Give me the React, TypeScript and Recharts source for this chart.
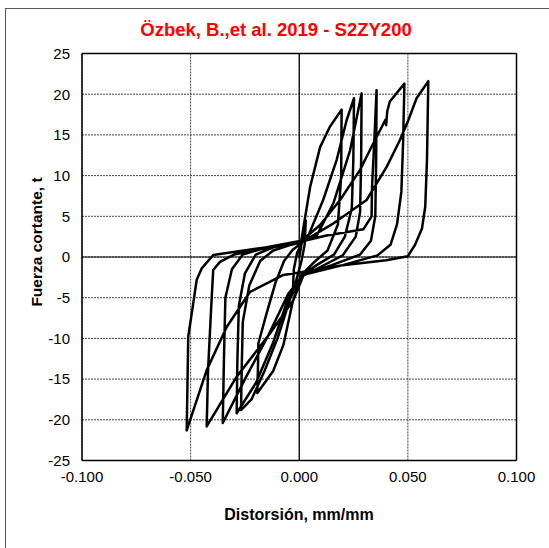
import React from 'react';
import { LineChart, Line, XAxis, YAxis, CartesianGrid, ReferenceLine } from 'recharts';

const titulo = 'Özbek, B.,et al. 2019 - S2ZY200';
const tituloX = 'Distorsión, mm/mm';
const tituloY = 'Fuerza cortante, t';

const xTicks = [-0.1, -0.05, 0, 0.05, 0.1];
const yTicks = [-25, -20, -15, -10, -5, 0, 5, 10, 15, 20, 25];

// [distorsión, fuerza]
const ciclo0: [number, number][] = [
  [0, 0], [0.002, 3], [0.003, 4.5], [0.0025, 1.5], [0.001, -0.5], [-0.001, -2.5],
  [-0.003, -4.5], [-0.0025, -1.5], [-0.001, 0.5],
];
const ciclo1: [number, number][] = [
  [0.0005, 1.3], [0.005, 8.6], [0.0096, 13.5], [0.0141, 16], [0.0195, 18.1],
  [0.0193, 10], [0.0178, 4], [0.013, 0.8], [0.007, -0.6], [0.001, -2.2],
  [-0.003, -5.5], [-0.0073, -10.8], [-0.012, -14], [-0.0193, -16.7],
  [-0.019, -13.5], [-0.0188, -10.6], [-0.015, -6.9], [-0.011, -3.2], [-0.007, -0.5], [-0.003, 0.9], [0.0005, 1.6],
];
const ciclo2: [number, number][] = [
  [0.004, 2.5], [0.011, 7], [0.0172, 11.9], [0.0218, 16.8], [0.0252, 19.5],
  [0.0249, 12], [0.0242, 6], [0.021, 2.5], [0.016, 0.3], [0.008, -1], [0.001, -2.3],
  [-0.004, -5], [-0.01, -10], [-0.016, -14], [-0.022, -17.5], [-0.0268, -18.8],
  [-0.0265, -14], [-0.026, -8], [-0.023, -3.5], [-0.018, -0.5], [-0.012, 0.8], [-0.005, 1.4], [0.001, 1.8],
];
const ciclo3: [number, number][] = [
  [0.008, 2.6], [0.0157, 6.6], [0.0234, 13.1], [0.0287, 20.1],
  [0.0285, 12], [0.028, 5.5], [0.026, 2.5], [0.02, 0.2], [0.01, -1.2], [0.001, -2.4],
  [-0.005, -5], [-0.012, -10.5], [-0.02, -15.5], [-0.0288, -19.2],
  [-0.0285, -13], [-0.0278, -6], [-0.025, -2], [-0.02, 0.3], [-0.012, 1.2], [0.001, 1.9],
];
const ciclo4: [number, number][] = [
  [0.012, 2.6], [0.0295, 3.4], [0.0333, 5], [0.0335, 8.6], [0.0345, 14], [0.0356, 20.5],
  [0.0354, 12], [0.035, 5], [0.033, 2], [0.028, 0.3], [0.015, -1], [0.002, -2.2],
  [-0.005, -4.5], [-0.014, -9.5], [-0.025, -15], [-0.0352, -20.4],
  [-0.0347, -13], [-0.034, -5], [-0.031, -1.5], [-0.026, 0.3], [-0.015, 1.2], [0.001, 2],
];
const ciclo5: [number, number][] = [
  [0.0095, 3.9], [0.0188, 7], [0.028, 10.7], [0.0349, 14.4], [0.0398, 16.9], [0.04, 16.2], [0.0405, 17.9],
  [0.0417, 19.1], [0.0484, 21.3],
  [0.0478, 14], [0.047, 8], [0.045, 4], [0.042, 1.5], [0.036, 0.2], [0.02, -1], [0.002, -2.2],
  [-0.0027, -5.3], [-0.0135, -9.4], [-0.0288, -14.7], [-0.0426, -20.8],
  [-0.042, -14], [-0.0405, -6], [-0.0396, -1.6], [-0.0365, -0.6], [-0.03, 0.3], [-0.015, 1.1], [0.001, 1.8],
];
const ciclo6: [number, number][] = [
  [0.015, 4], [0.031, 7], [0.0403, 11.1], [0.0464, 14.4], [0.0502, 16.8], [0.054, 19.5], [0.0594, 21.6],
  [0.0588, 12], [0.058, 6.2], [0.0565, 3.5], [0.0533, 1.5], [0.05, 0.1], [0.04, -0.4], [0.02, -1], [0.002, -1.8],
  [-0.0073, -2.2], [-0.0227, -4.3], [-0.0334, -8.6], [-0.0426, -13.9], [-0.0518, -21.3],
  [-0.0511, -9.8], [-0.0488, -5.7], [-0.0472, -2.8], [-0.0449, -1.4], [-0.0396, 0.25], [-0.02, 1], [-0.0004, 1.7],
];

const data = [...ciclo0, ...ciclo1, ...ciclo2, ...ciclo3, ...ciclo4, ...ciclo5, ...ciclo6].map(([d, f]) => ({ d, f }));

const font = '"Liberation Sans", Arial, sans-serif';

export default function App() {
  return (
    <div style={{ position: 'absolute', left: 0, top: 0, width: 549, height: 548, background: '#fff', overflow: 'hidden', fontFamily: font }}>
      <div style={{ position: 'absolute', left: 5, top: 8, width: 600, height: 600, border: '1px solid #595959' }} />
      <div style={{ position: 'absolute', left: 0, top: 19, width: 552, textAlign: 'center', color: '#ff0000', fontWeight: 'bold', fontSize: 18.5, lineHeight: '22px' }}>{titulo}</div>
      <div style={{ position: 'absolute', left: 149, top: 505, width: 300, textAlign: 'center', color: '#000', fontWeight: 'bold', fontSize: 16, lineHeight: '20px' }}>{tituloX}</div>
      <div style={{ position: 'absolute', left: -63, top: 232, width: 200, height: 20, textAlign: 'center', color: '#000', fontWeight: 'bold', fontSize: 15.5, lineHeight: '20px', transform: 'rotate(-90deg)' }}>{tituloY}</div>
      <div style={{ position: 'absolute', left: 0, top: 0 }}>
        <LineChart width={549} height={548} data={data} margin={{ top: 53.5, right: 32.5, bottom: 57.5, left: 0 }}>
          <CartesianGrid strokeDasharray="2 1" stroke="#444" strokeWidth={1} />
          <XAxis type="number" dataKey="d" domain={[-0.1, 0.1]} ticks={xTicks} allowDataOverflow
            tickFormatter={(v: number) => v.toFixed(3)} axisLine={false} tickLine={false}
            tick={{ fill: '#000', fontSize: 15, fontFamily: font }} height={30} tickMargin={5} interval={0} />
          <YAxis type="number" domain={[-25, 25]} ticks={yTicks} allowDataOverflow width={82}
            axisLine={false} tickLine={false} tick={{ fill: '#000', fontSize: 15, fontFamily: font }} tickMargin={6} interval={0} />
          <ReferenceLine x={0} stroke="#000" strokeWidth={1.2} />
          <ReferenceLine y={0} stroke="#000" strokeWidth={1.2} />
          <ReferenceLine x={-0.1} stroke="#000" strokeWidth={1.5} />
          <ReferenceLine x={0.1} stroke="#000" strokeWidth={1.5} />
          <ReferenceLine y={-25} stroke="#000" strokeWidth={1.5} />
          <ReferenceLine y={25} stroke="#000" strokeWidth={1.5} />
          <Line type="linear" dataKey="f" stroke="#000" strokeWidth={2.5} dot={false} isAnimationActive={false} strokeLinejoin="round" />
        </LineChart>
      </div>
    </div>
  );
}
